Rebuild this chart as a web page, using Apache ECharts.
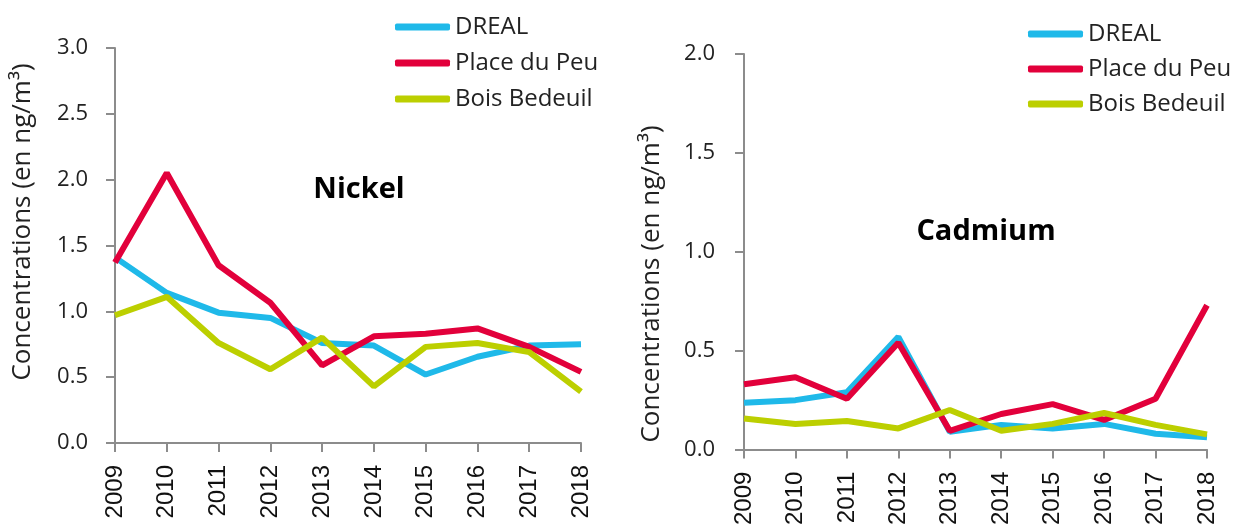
<!DOCTYPE html>
<html><head><meta charset="utf-8">
<script src="https://cdn.jsdelivr.net/npm/echarts@6/dist/echarts.min.js"></script>
<style>html,body{margin:0;padding:0;background:#fff}#c{width:1234px;height:528px}</style>
</head><body><div id="c"></div>
<script>
var years = ['2009','2010','2011','2012','2013','2014','2015','2016','2017','2018'];
var seriesNames = ['DREAL','Place du Peu','Bois Bedeuil'];
var nickelDreal = [1.41,1.14,0.99,0.95,0.76,0.74,0.52,0.655,0.74,0.75];
var nickelPlace = [1.37,2.05,1.35,1.065,0.59,0.81,0.83,0.87,0.73,0.54];
var nickelBois  = [0.97,1.11,0.76,0.56,0.80,0.43,0.73,0.76,0.69,0.39];
var cadDreal = [0.237,0.25,0.29,0.57,0.09,0.125,0.107,0.13,0.08,0.062];
var cadPlace = [0.33,0.366,0.257,0.54,0.095,0.18,0.23,0.15,0.257,0.73];
var cadBois  = [0.157,0.13,0.145,0.107,0.2,0.095,0.13,0.185,0.125,0.077];
var nickelTicks = {min:0, max:3, interval:0.5};
var cadTicks = {min:0, max:2, interval:0.5};

var colors = ['#1fb9e9','#e2003b','#bccf00'];
var axisCol = '#8c8c8c';
var yName = 'Concentrations (en ng/m\u00b3)';

function xAx(gi){
  return {type:'category', gridIndex:gi, data:years, boundaryGap:false,
    axisLine:{lineStyle:{color:axisCol,width:2}},
    axisTick:{show:true,length:9,lineStyle:{color:axisCol,width:2}},
    axisLabel:{rotate:90, margin:22, color:'#111', fontFamily:'Liberation Sans', fontSize:24},
    splitLine:{show:false}};
}
function yAx(gi,t,m){
  return {type:'value', gridIndex:gi, min:t.min, max:t.max, interval:t.interval,
    axisLine:{show:true,lineStyle:{color:axisCol,width:2}},
    axisTick:{show:true,length:9,lineStyle:{color:axisCol,width:2}},
    axisLabel:{margin:m, color:'#222', fontFamily:'Open Sans', fontSize:22, formatter:function(v){return v.toFixed(1);}},
    splitLine:{show:false}};
}
function ser(name,data,ci,gi){
  return {type:'line', name:name, data:data, xAxisIndex:gi, yAxisIndex:gi,
    showSymbol:false, symbol:'none', lineStyle:{color:colors[ci],width:6}, itemStyle:{color:colors[ci]}, z:ci===2?3:(ci===1?2:1)};
}
function leg(l,t,g){
  return {left:l, top:t, padding:0, orient:'vertical', data:seriesNames, icon:'roundRect', itemWidth:55, itemHeight:7,
    itemGap:g, selectedMode:false, textStyle:{fontFamily:'Open Sans', fontSize:24, color:'#222'}};
}
var chart = echarts.init(document.getElementById('c'));
chart.setOption({
  animation:false,
  grid:[{left:115, top:48, width:466, height:395},{left:744, top:54, width:463, height:399}],
  xAxis:[xAx(0),xAx(1)],
  yAxis:[yAx(0,nickelTicks,27),yAx(1,cadTicks,29)],
  legend:[leg(395,15,12),leg(1028,22,11)],
  graphic:[
    {type:'text', x:359, y:190, style:{text:'Nickel', font:'bold 29px "Open Sans"', fill:'#000', textAlign:'center', textVerticalAlign:'middle'}},
    {type:'text', x:986, y:232, style:{text:'Cadmium', font:'bold 29px "Open Sans"', fill:'#000', textAlign:'center', textVerticalAlign:'middle'}},
    {type:'text', x:23, y:222, rotation:Math.PI/2, style:{text:yName, font:'26px "Open Sans"', fill:'#222', textAlign:'center', textVerticalAlign:'middle'}},
    {type:'text', x:652, y:284, rotation:Math.PI/2, style:{text:yName, font:'26px "Open Sans"', fill:'#222', textAlign:'center', textVerticalAlign:'middle'}}
  ],
  series:[
    ser('DREAL',nickelDreal,0,0), ser('Place du Peu',nickelPlace,1,0), ser('Bois Bedeuil',nickelBois,2,0),
    ser('DREAL',cadDreal,0,1), ser('Place du Peu',cadPlace,1,1), ser('Bois Bedeuil',cadBois,2,1)
  ]
});
</script></body></html>
